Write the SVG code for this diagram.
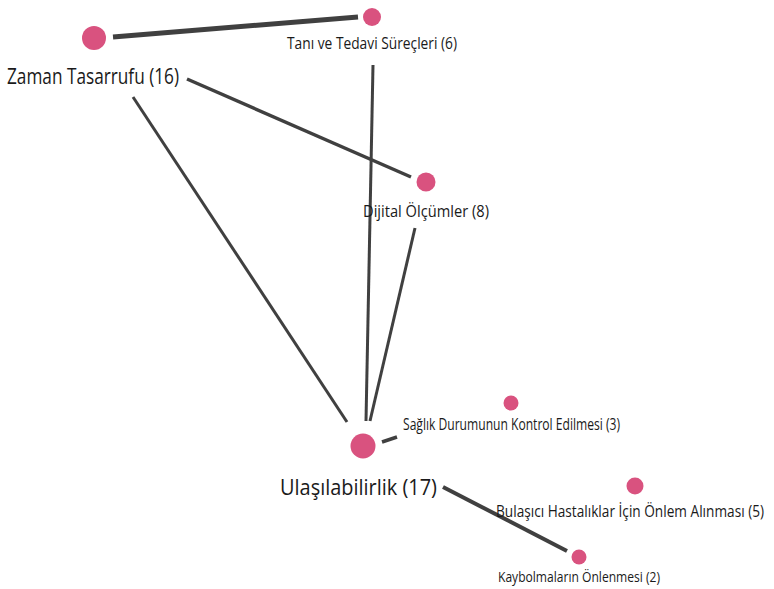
<svg xmlns="http://www.w3.org/2000/svg" width="774" height="589" viewBox="0 0 774 589">
<style>
.e{stroke:#404040;stroke-linecap:butt;fill:none}
.n{fill:#D9527F}
text{font-family:"Open Sans","Noto Sans","DejaVu Sans",sans-serif;fill:#1a1a1a}
</style>
<rect width="774" height="589" fill="#fff"/>
<g id="connectors">
<line class="e" x1="113" y1="37" x2="358" y2="17" stroke-width="5"/>
<line class="e" x1="187" y1="79" x2="411" y2="177" stroke-width="3.5"/>
<line class="e" x1="133" y1="97" x2="347" y2="422" stroke-width="3"/>
<line class="e" x1="373" y1="65" x2="366" y2="421" stroke-width="3"/>
<line class="e" x1="415" y1="228" x2="370" y2="421" stroke-width="3"/>
<line class="e" x1="382" y1="442" x2="397" y2="437" stroke-width="3.5"/>
<line class="e" x1="443" y1="487" x2="567" y2="551" stroke-width="4"/>
</g>
<g id="zaman"><circle class="n" cx="94" cy="38" r="12"/><text x="7" y="84" font-size="22" textLength="172" lengthAdjust="spacingAndGlyphs">Zaman Tasarrufu (16)</text></g>
<g id="tani"><circle class="n" cx="372" cy="17" r="9"/><text x="287" y="49" font-size="16.5" textLength="170" lengthAdjust="spacingAndGlyphs">Tanı ve Tedavi Süreçleri (6)</text></g>
<g id="dijital"><circle class="n" cx="426" cy="182" r="9.5"/><text x="363" y="217" font-size="17" textLength="126" lengthAdjust="spacingAndGlyphs">Dijital Ölçümler (8)</text></g>
<g id="saglik"><circle class="n" cx="511" cy="403" r="7.5"/><text x="403" y="430" font-size="15.5" textLength="217" lengthAdjust="spacingAndGlyphs">Sağlık Durumunun Kontrol Edilmesi (3)</text></g>
<g id="ulas"><circle class="n" cx="363" cy="446" r="12.5"/><text x="280" y="495" font-size="22" textLength="157" lengthAdjust="spacingAndGlyphs">Ulaşılabilirlik (17)</text></g>
<g id="bulasici"><circle class="n" cx="635" cy="486" r="8.5"/><text transform="translate(496 517) scale(1 1.26)" x="0" y="0" font-size="13.5" textLength="268" lengthAdjust="spacingAndGlyphs">Bulaşıcı Hastalıklar İçin Önlem Alınması (5)</text></g>
<g id="kaybolma"><circle class="n" cx="579" cy="557" r="7.5"/><text x="498" y="582" font-size="15" textLength="162" lengthAdjust="spacingAndGlyphs">Kaybolmaların Önlenmesi (2)</text></g>
</svg>
